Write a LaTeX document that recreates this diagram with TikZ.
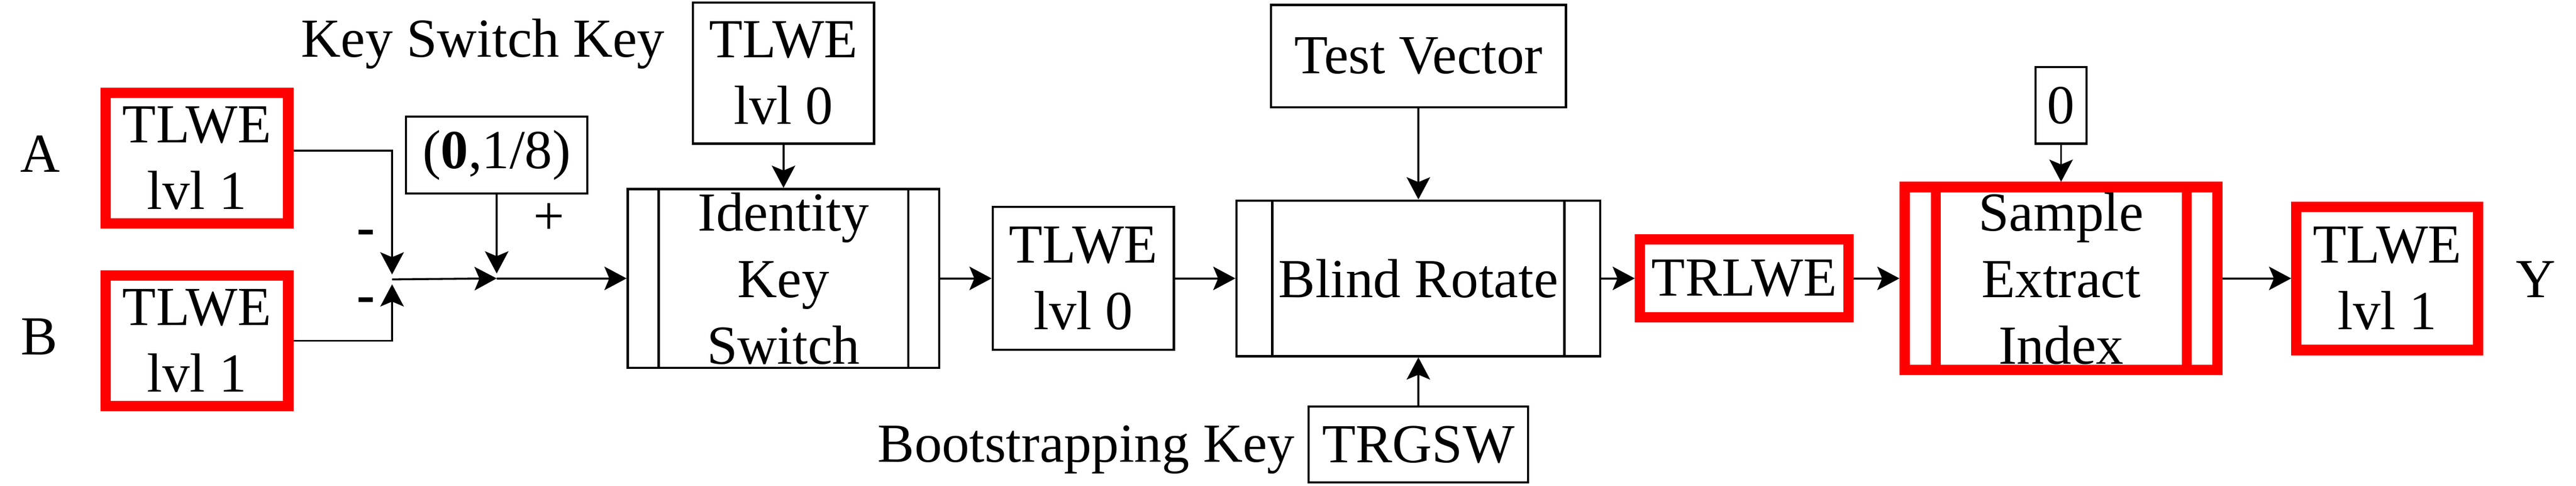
\documentclass[tikz,border=0pt]{standalone}
\usepackage{fontspec}
\setmainfont{Liberation Serif}
\usetikzlibrary{arrows.meta}

\tikzstyle{blk}=[draw, line width=0.07cm, inner sep=0pt, align=center]
\tikzstyle{redblk}=[draw=red, line width=0.32cm, inner sep=0pt, align=center]
\tikzstyle{dep}=[-{Stealth[length=0.68cm, width=0.72cm, inset=0.15cm]}, line width=0.06cm]
\tikzset{bars/.style 2 args={path picture={
  \draw[#2] ([xshift=#1]path picture bounding box.north west) -- ([xshift=#1]path picture bounding box.south west)
    ([xshift=-#1]path picture bounding box.north east) -- ([xshift=-#1]path picture bounding box.south east);
}}}

\begin{document}
\begin{tikzpicture}[font=\fontsize{48}{58}\selectfont]
  \useasboundingbox (0,0) rectangle (79.04,-14.88);

  % inputs
  \node (la) at (1.23,-4.72) {A};
  \node (lb) at (1.20,-10.31) {B};
  \node[redblk, minimum width=5.61cm, minimum height=4.00cm] (ta) at (6.04,-4.84) {TLWE\\lvl 1};
  \node[redblk, minimum width=5.61cm, minimum height=4.00cm] (tb) at (6.04,-10.44) {TLWE\\lvl 1};
  \node[anchor=base] (ma) at (11.22,-7.51) {\textbf{-}};
  \node[anchor=base] (mb) at (11.22,-9.58) {\textbf{-}};
  \node[blk, minimum width=5.56cm, minimum height=2.36cm] (off) at (15.24,-4.75) {(\textbf{0},1/8)};
  \node[anchor=base] (pl) at (16.84,-7.19) {+};
  \coordinate (j1) at (12.03,-8.56);
  \coordinate (j2) at (15.24,-8.53);

  % key switch
  \node[anchor=base] (kskl) at (14.82,-1.74) {Key Switch Key};
  \node[blk, minimum width=5.55cm, minimum height=4.33cm] (ksk) at (24.04,-2.24) {TLWE\\lvl 0};
  \node[blk, bars={0.95cm}{line width=0.07cm}, minimum width=9.56cm, minimum height=5.48cm] (iks) at (24.04,-8.53) {Identity\\Key\\Switch};
  \node[blk, minimum width=5.56cm, minimum height=4.38cm] (lv0) at (33.24,-8.53) {TLWE\\lvl 0};

  % blind rotate
  \node[blk, minimum width=9.05cm, minimum height=3.14cm] (tv) at (43.52,-1.72) {Test Vector};
  \node[blk, bars={1.1cm}{line width=0.07cm}, minimum width=11.16cm, minimum height=4.77cm] (br) at (43.52,-8.53) {Blind Rotate};
  \node[blk, minimum width=6.74cm, minimum height=2.32cm] (trgsw) at (43.52,-13.62) {TRGSW};
  \node[anchor=base] (bkl) at (33.33,-14.16) {Bootstrapping Key};
  \node[redblk, minimum width=6.40cm, minimum height=2.39cm] (trlwe) at (53.52,-8.53) {TRLWE};

  % sample extract
  \node[blk, minimum width=1.56cm, minimum height=2.35cm] (zero) at (63.24,-3.23) {0};
  \node[redblk, bars={0.95cm}{red, line width=0.30cm}, minimum width=9.60cm, minimum height=5.60cm] (sei) at (63.24,-8.53) {Sample\\Extract\\Index};
  \node[redblk, minimum width=5.58cm, minimum height=4.39cm] (out) at (73.25,-8.53) {TLWE\\lvl 1};
  \node[anchor=base] (ly) at (77.80,-9.11) {Y};

  \draw[dep, shorten >=0.15cm] ([yshift=0.23cm]ta.east) -| (j1);
  \draw[dep, shorten >=0.15cm] (tb.east) -| (j1);
  \draw[dep] (j1) -- (j2);
  \draw[dep, shorten >=0.15cm] (off) -- (j2);
  \draw[dep] (j2) -- (iks);
  \draw[dep] (ksk) -- (iks);
  \draw[dep] (iks) -- (lv0);
  \draw[dep] (lv0) -- (br);
  \draw[dep] (tv) -- (br);
  \draw[dep] (trgsw) -- (br);
  \draw[dep] (br) -- (trlwe);
  \draw[dep] (trlwe) -- (sei);
  \draw[dep] (zero) -- (sei);
  \draw[dep] (sei) -- (out);
\end{tikzpicture}
\end{document}
